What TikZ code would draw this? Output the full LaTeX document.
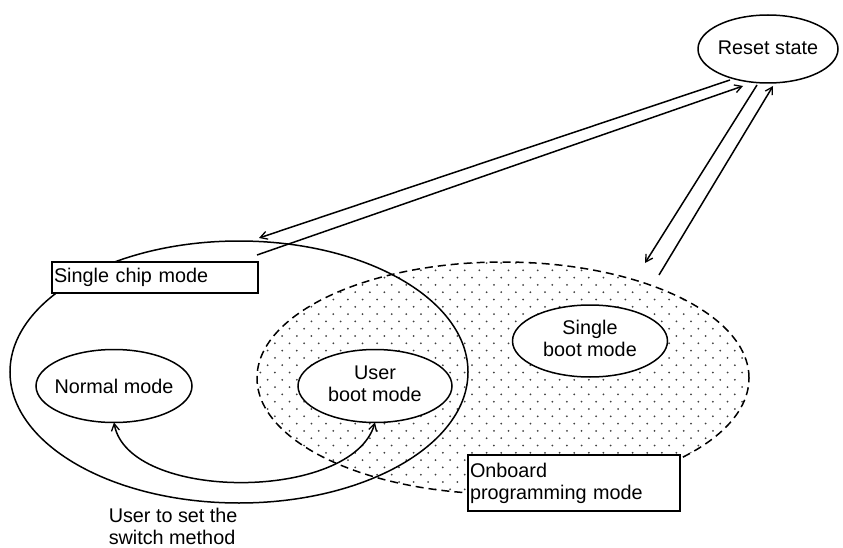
\documentclass[tikz,border=0pt]{standalone}
\usepackage{fontspec}
\setmainfont{Liberation Sans}
\usetikzlibrary{shapes.geometric,arrows.meta}
\begin{document}
\begin{tikzpicture}[x=1pt,y=-1pt,
  font=\fontsize{19.8}{22}\selectfont,
  every node/.style={line width=1.5pt},
  oval/.style={draw, ellipse, inner sep=0pt, outer sep=0pt, fill=white},
  region/.style={ellipse, inner sep=0pt, outer sep=0pt},
  labelbox/.style={draw, fill=white, inner xsep=2pt, inner ysep=0pt, align=left},
  arr/.style={line width=1.5pt, -{Straight Barb[length=7pt,width=8pt,line width=1.3pt]}},
  darr/.style={line width=1.5pt, {Straight Barb[length=7pt,width=8pt,line width=1.3pt]}-{Straight Barb[length=7pt,width=8pt,line width=1.3pt]}},
  dotc/.style={fill=black!75}
]
\useasboundingbox (0,0) rectangle (843,548);

% Onboard programming mode region (dotted)
\begin{scope}
  \clip (503,378) ellipse [x radius=246, y radius=116];
  \foreach \j in {0,...,33}{
    \foreach \i in {0,...,35}{
      \fill[dotc] ({253+\i*14.6+mod(\j,2)*7.3},{263+\j*7.3}) circle[radius=1pt];
    }
  }
\end{scope}
\node[region, draw, dash pattern=on 8pt off 5pt, line width=1.5pt,
      minimum width=492pt, minimum height=232pt] (obm) at (503,378) {};

% Single chip mode region
\node[region, draw, line width=1.5pt, minimum width=458pt, minimum height=262pt] (scm) at (239,372) {};

% Mode ellipses
\node[oval, minimum width=156pt, minimum height=73pt] (nm) at (114,386)
  {\makebox[0pt]{Normal mode}};
\node[oval, minimum width=154pt, minimum height=73pt] (ub) at (375,386)
  {\makebox[0pt]{\begin{tabular}{@{}c@{}}User\\boot mode\end{tabular}}};
\node[oval, minimum width=155pt, minimum height=72pt] (sb) at (590,341)
  {\makebox[0pt]{\begin{tabular}{@{}c@{}}Single\\boot mode\end{tabular}}};
\node[oval, minimum width=140pt, minimum height=68pt] (rs) at (768,49)
  {\makebox[0pt]{\raisebox{3pt}{Reset state}}};

% Label boxes
\node[labelbox, text width=202pt, minimum height=31pt] (scl) at (155,277.5) {Single chip mode};
\node[labelbox, text width=208pt, minimum height=56pt] (obl) at (574,483) {Onboard\\programming mode};

% Free text
\node[anchor=north west, inner sep=0pt, align=left] (sw) at (108,507) {User to set the\\switch method};

% Connector end points
\coordinate (r1) at (730,80);
\coordinate (r2) at (743,86);
\coordinate (r3) at (757,85);
\coordinate (r4) at (773,86);
\coordinate (s1) at (259,238);
\coordinate (s2) at (257,255);
\coordinate (o1) at (645,263);
\coordinate (o2) at (659,275);

\draw[arr] (r1) -- (s1);
\draw[arr] (s2) -- (r2);
\draw[arr] (r3) -- (o1);
\draw[arr] (o2) -- (r4);

\draw[darr] (nm.south) .. controls (128,502) and (352,502) .. (ub.south);
\end{tikzpicture}
\end{document}
